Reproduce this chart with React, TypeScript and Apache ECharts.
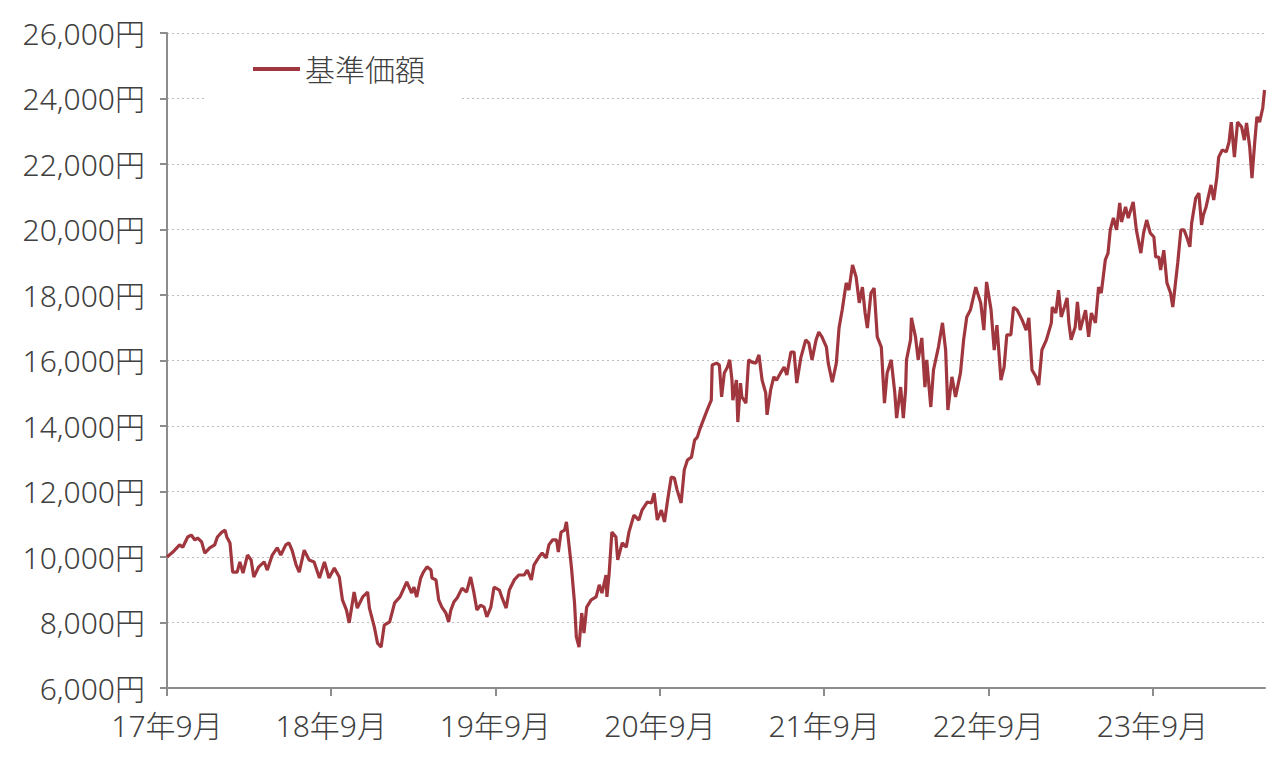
import React, { useEffect, useRef } from "react";
import * as echarts from "echarts";

const seriesName = "基準価額";

const dates: string[] = [
  "2017-09-01","2017-09-14","2017-09-29","2017-10-06","2017-10-17","2017-10-25","2017-11-02","2017-11-08","2017-11-17","2017-11-24",
  "2017-12-05","2017-12-16","2017-12-22","2018-01-01","2018-01-08","2018-01-12","2018-01-19","2018-01-25","2018-02-04","2018-02-10",
  "2018-02-17","2018-02-27","2018-03-07","2018-03-13","2018-03-24","2018-04-05","2018-04-12","2018-04-23","2018-05-04","2018-05-12",
  "2018-05-23","2018-05-30","2018-06-06","2018-06-15","2018-06-22","2018-07-03","2018-07-14","2018-07-25","2018-08-06","2018-08-17",
  "2018-08-27","2018-09-08","2018-09-19","2018-09-26","2018-10-05","2018-10-11","2018-10-22","2018-10-29","2018-11-10","2018-11-21",
  "2018-11-25","2018-12-06","2018-12-13","2018-12-21","2018-12-28","2019-01-09","2019-01-20","2019-02-01","2019-02-16","2019-02-27",
  "2019-03-04","2019-03-10","2019-03-19","2019-03-25","2019-04-02","2019-04-11","2019-04-13","2019-04-22","2019-04-28","2019-05-05",
  "2019-05-14","2019-05-20","2019-05-25","2019-06-01","2019-06-08","2019-06-19","2019-06-29","2019-07-08","2019-07-15","2019-07-22",
  "2019-07-30","2019-08-07","2019-08-13","2019-08-22","2019-08-29","2019-09-10","2019-09-16","2019-09-25","2019-10-02","2019-10-13",
  "2019-10-23","2019-11-04","2019-11-11","2019-11-20","2019-11-26","2019-12-07","2019-12-14","2019-12-23","2019-12-29","2020-01-06",
  "2020-01-15","2020-01-19","2020-01-25","2020-02-02","2020-02-06","2020-02-13","2020-02-17","2020-02-24","2020-02-28","2020-03-05",
  "2020-03-11","2020-03-16","2020-03-22","2020-04-01","2020-04-12","2020-04-19","2020-04-25","2020-05-04","2020-05-06","2020-05-11",
  "2020-05-17","2020-05-26","2020-05-30","2020-06-09","2020-06-18","2020-06-24","2020-07-05","2020-07-16","2020-07-23","2020-08-04",
  "2020-08-13","2020-08-19","2020-08-26","2020-09-04","2020-09-11","2020-09-18","2020-09-26","2020-10-03","2020-10-09","2020-10-18",
  "2020-10-25","2020-11-01","2020-11-10","2020-11-17","2020-11-23","2020-11-28","2020-12-09","2020-12-15","2020-12-24","2020-12-26",
  "2021-01-05","2021-01-11","2021-01-16","2021-01-22","2021-01-29","2021-02-03","2021-02-08","2021-02-10","2021-02-18","2021-02-21",
  "2021-02-27","2021-03-02","2021-03-11","2021-03-17","2021-03-24","2021-04-02","2021-04-09","2021-04-16","2021-04-24","2021-04-27",
  "2021-05-05","2021-05-12","2021-05-18","2021-05-27","2021-06-04","2021-06-10","2021-06-19","2021-06-26","2021-07-02","2021-07-11",
  "2021-07-22","2021-07-29","2021-08-05","2021-08-14","2021-08-20","2021-08-27","2021-09-06","2021-09-10","2021-09-19","2021-09-28",
  "2021-10-04","2021-10-11","2021-10-20","2021-10-26","2021-11-03","2021-11-11","2021-11-18","2021-11-25","2021-12-01","2021-12-06",
  "2021-12-14","2021-12-21","2021-12-28","2022-01-06","2022-01-13","2022-01-19","2022-01-28","2022-02-05","2022-02-09","2022-02-18",
  "2022-02-24","2022-03-01","2022-03-03","2022-03-12","2022-03-14","2022-03-23","2022-03-29","2022-04-06","2022-04-13","2022-04-17",
  "2022-04-26","2022-05-02","2022-05-13","2022-05-22","2022-05-29","2022-06-03","2022-06-12","2022-06-20","2022-07-01","2022-07-08",
  "2022-07-15","2022-07-23","2022-08-04","2022-08-15","2022-08-22","2022-08-28","2022-09-07","2022-09-14","2022-09-20","2022-09-29",
  "2022-10-06","2022-10-12","2022-10-21","2022-10-27","2022-11-04","2022-11-15","2022-11-24","2022-11-30","2022-12-07","2022-12-16",
  "2022-12-22","2022-12-29","2023-01-08","2023-01-19","2023-01-21","2023-01-29","2023-02-04","2023-02-10","2023-02-17","2023-02-23",
  "2023-02-27","2023-03-04","2023-03-13","2023-03-18","2023-03-24","2023-04-05","2023-04-12","2023-04-18","2023-04-27","2023-05-04",
  "2023-05-10","2023-05-19","2023-05-25","2023-05-30","2023-06-06","2023-06-13","2023-06-20","2023-06-24","2023-07-03","2023-07-09",
  "2023-07-20","2023-07-27","2023-08-06","2023-08-12","2023-08-19","2023-08-27","2023-09-04","2023-09-08","2023-09-15","2023-09-19",
  "2023-09-26","2023-10-03","2023-10-11","2023-10-16","2023-10-22","2023-10-27","2023-11-03","2023-11-10","2023-11-16","2023-11-23",
  "2023-11-27","2023-12-06","2023-12-13","2023-12-19","2023-12-23","2023-12-29","2024-01-09","2024-01-15","2024-01-22","2024-01-26",
  "2024-02-03","2024-02-12","2024-02-18","2024-02-23","2024-03-01","2024-03-08","2024-03-17","2024-03-23","2024-03-28","2024-04-04",
  "2024-04-09","2024-04-15","2024-04-20","2024-04-26","2024-05-03","2024-05-07",
];

const navValues: number[] = [
  10000,10150,10370,10300,10610,10670,10520,10580,10460,10120,
  10280,10370,10610,10760,10820,10610,10430,9540,9540,9850,
  9510,10060,9910,9390,9700,9850,9600,10060,10280,10060,
  10370,10430,10210,9760,9540,10210,9910,9850,9360,9850,
  9360,9660,9390,8690,8380,7990,8930,8440,8780,8930,
  8440,7860,7370,7250,7920,8020,8600,8780,9240,8900,
  9080,8780,9360,9540,9700,9600,9360,9300,8690,8470,
  8290,8020,8380,8630,8750,9050,8930,9390,8930,8380,
  8530,8470,8170,8470,9080,8990,8750,8440,8990,9300,
  9450,9450,9600,9300,9760,10000,10120,9970,10370,10520,
  10520,10150,10760,10820,11070,10210,9700,8600,7560,7250,
  8290,7680,8470,8690,8780,9150,8900,9450,8780,9510,
  10760,10610,9910,10430,10300,10760,11280,11130,11430,11680,
  11650,11950,11130,11430,11070,11740,12440,12410,12050,11650,
  12660,12960,13050,13570,13660,13880,14280,14490,14790,15860,
  15920,15860,14890,15620,15800,16020,15400,14790,15400,14120,
  15310,14890,14700,16020,15950,15920,16170,15400,15010,14340,
  15100,15500,15400,15620,15800,15560,16260,16260,15310,16080,
  16630,16530,16020,16630,16870,16720,16410,15920,15340,15920,
  16990,17540,18370,18150,18920,18550,17760,18240,17450,16990,
  18060,18210,16720,16410,14700,15620,16020,15010,14240,15190,
  14240,15100,16020,16630,17300,16720,16020,16690,15190,16020,
  14580,15710,16410,17150,16320,14490,15500,14890,15620,16630,
  17330,17540,18240,17760,16930,18400,17540,16320,17080,15400,
  15800,16780,16780,17630,17540,17240,16930,17300,15710,15500,
  15250,16320,16630,17150,17630,17450,18150,17330,17630,17910,
  17150,16630,17020,17790,16930,17540,16720,17450,17150,18240,
  18060,19070,19280,19990,20350,19990,20810,20230,20690,20350,
  20840,19990,19280,19890,20290,19890,19770,19160,19160,18760,
  19370,18370,18060,17630,18370,18980,19990,19990,19770,19470,
  20200,20960,21110,20140,20440,20690,21360,20900,21600,22210,
  22430,22370,22670,23280,22210,23280,23130,22730,23250,22520,
  21570,22640,23440,23280,23710,24260,
];

const xTickYears: number[] = [2017, 2018, 2019, 2020, 2021, 2022, 2023];
const yMin = 6000;
const yMax = 26000;
const yStep = 2000;

const toTs = (d: string) => {
  const [y, m, day] = d.split("-").map(Number);
  return Date.UTC(y, m - 1, day);
};

export default function App() {
  const ref = useRef<HTMLDivElement>(null);

  useEffect(() => {
    if (!ref.current) return;
    const chart = echarts.init(ref.current, null, { renderer: "svg" });
    const tickValues = xTickYears.map((y) => Date.UTC(y, 8, 1));
    const textColor = "#404040";
    const font = "'Noto Sans', 'Noto Sans CJK JP', sans-serif";
    const lineColor = "#a0373e";
    const data = dates.map((d, i) => [toTs(d), navValues[i]]);

    chart.setOption({
      animation: false,
      backgroundColor: "#ffffff",
      grid: { left: 167, right: 15, top: 33, bottom: 70, containLabel: false },
      legend: {
        data: [{ name: seriesName, icon: "rect" }],
        left: 207,
        top: 40,
        padding: [14, 37, 16, 46],
        backgroundColor: "#ffffff",
        itemWidth: 47,
        itemHeight: 4,
        itemStyle: { color: lineColor },
        textStyle: { fontSize: 30, fontWeight: 300, color: textColor, fontFamily: font },
      },
      xAxis: {
        type: "value",
        min: Date.UTC(2017, 8, 1),
        max: Date.UTC(2024, 4, 8),
        axisLine: { show: true, lineStyle: { color: "#8c8c8c", width: 2 } },
        axisTick: {
          show: true,
          customValues: tickValues,
          length: 8,
          lineStyle: { color: "#8c8c8c", width: 2 },
        },
        axisLabel: {
          customValues: tickValues,
          margin: 22,
          fontSize: 30,
          fontWeight: 300,
          color: textColor,
          fontFamily: font,
          formatter: (v: number) => {
            const yy = new Date(v).getUTCFullYear() % 100;
            return `${yy}年9月`;
          },
        },
        splitLine: { show: false },
      },
      yAxis: {
        type: "value",
        min: yMin,
        max: yMax,
        interval: yStep,
        axisLine: { show: true, lineStyle: { color: "#8c8c8c", width: 2 } },
        axisTick: { show: true, length: 7, lineStyle: { color: "#8c8c8c", width: 2 } },
        axisLabel: {
          margin: 22,
          fontSize: 30,
          fontWeight: 300,
          color: textColor,
          fontFamily: font,
          formatter: (v: number) => `${v.toLocaleString("en-US")}円`,
        },
        splitLine: {
          show: true,
          lineStyle: { color: "#bdbdbd", width: 1, type: [2, 3] },
        },
      },
      series: [
        {
          name: seriesName,
          type: "line",
          data,
          symbol: "none",
          lineStyle: { color: lineColor, width: 3.2 },
          itemStyle: { color: lineColor },
          z: 3,
        },
      ],
    });

    return () => chart.dispose();
  }, []);

  return (
    <div
      ref={ref}
      style={{ position: "fixed", left: 0, top: 0, width: 1280, height: 758 }}
    />
  );
}
